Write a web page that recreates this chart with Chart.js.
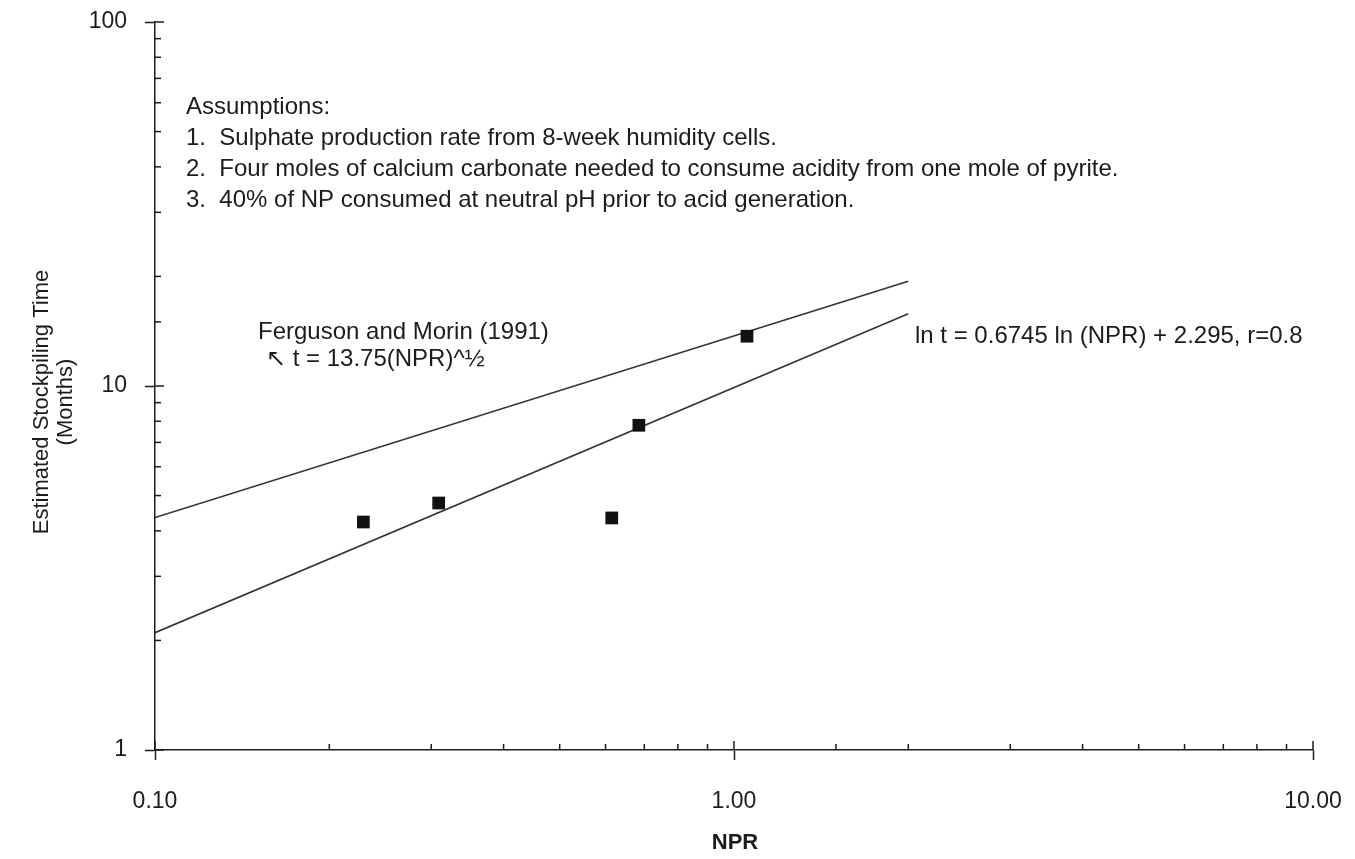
<!DOCTYPE html>
<html>
<head>
<meta charset="utf-8">
<script src="https://cdn.jsdelivr.net/npm/chart.js@4.4.1/dist/chart.umd.min.js"></script>
<style>
  html, body { margin: 0; padding: 0; background: #fff; }
</style>
</head>
<body>
<canvas id="stockpile" width="1355" height="859"></canvas>
<script>
// samples: NPR vs estimated stockpiling time (months)
const nprValues = [0.229, 0.309, 0.615, 0.685, 1.053];
const monthValues = [4.23, 4.77, 4.34, 7.8, 13.7];

// Ferguson and Morin (1991) line, end points
const fergusonNpr = [0.1, 2.0];
const fergusonMonths = [4.35, 19.4];

// regression line end points
const fitNpr = [0.1, 2.0];
const fitMonths = [2.1, 15.8];

const xTickLabels = ['0.10', '1.00', '10.00']; // 0.1, 1, 10
const yTickLabels = ['1', '10', '100'];        // 1, 10, 100

const assumptions = [
  'Assumptions:',
  '1.  Sulphate production rate from 8-week humidity cells.',
  '2.  Four moles of calcium carbonate needed to consume acidity from one mole of pyrite.',
  '3.  40% of NP consumed at neutral pH prior to acid generation.'
];

const FONT = "'Liberation Sans', Arial, sans-serif";
const INK = '#1c1c1c';

const isPow10 = v => Math.abs(Math.log10(v) - Math.round(Math.log10(v))) < 1e-6;
const toPoints = (xs, ys) => xs.map((x, i) => ({ x: x, y: ys[i] }));

// small tick marks pointing into the plot
const innerTicks = {
  id: 'innerTicks',
  afterDatasetsDraw(chart) {
    const { ctx, chartArea, scales } = chart;
    ctx.save();
    ctx.strokeStyle = INK;
    ctx.lineWidth = 1.5;
    scales.x.ticks.forEach(t => {
      const px = scales.x.getPixelForValue(t.value);
      ctx.beginPath();
      ctx.moveTo(px, chartArea.bottom);
      ctx.lineTo(px, chartArea.bottom - (isPow10(t.value) ? 9 : 6));
      ctx.stroke();
    });
    scales.y.ticks.forEach(t => {
      const py = scales.y.getPixelForValue(t.value);
      ctx.beginPath();
      ctx.moveTo(chartArea.left, py);
      ctx.lineTo(chartArea.left + (isPow10(t.value) ? 9 : 6), py);
      ctx.stroke();
    });
    ctx.restore();
  }
};

// free text on the figure
const notes = {
  id: 'notes',
  afterDraw(chart) {
    const ctx = chart.ctx;
    ctx.save();
    ctx.fillStyle = INK;
    ctx.textBaseline = 'middle';
    ctx.textAlign = 'left';
    ctx.font = '24px ' + FONT;
    const rows = [107, 138, 169, 200];
    assumptions.forEach((line, i) => ctx.fillText(line, 186, rows[i]));

    ctx.fillText('Ferguson and Morin (1991)', 258, 332);
    ctx.fillText('\u2196 t = 13.75(NPR)^\u00bd', 266, 359);
    ctx.fillText('ln t = 0.6745 ln (NPR) + 2.295, r=0.8', 915, 336);

    // axis titles
    ctx.textAlign = 'center';
    ctx.font = 'bold 22px ' + FONT;
    ctx.fillText('NPR', 735, 843);

    ctx.font = '22px ' + FONT;
    ctx.translate(42, 402);
    ctx.rotate(-Math.PI / 2);
    ctx.fillText('Estimated Stockpiling Time', 0, 0);
    ctx.fillText('(Months)', 0, 24);
    ctx.restore();
  }
};

const axisTicks = (labels, offset) => ({
  autoSkip: false,
  maxRotation: 0,
  color: INK,
  font: { family: FONT, size: 23 },
  callback: v => isPow10(v) ? labels[Math.round(Math.log10(v)) + offset] : ''
});

new Chart(document.getElementById('stockpile'), {
  type: 'scatter',
  data: {
    datasets: [
      {
        label: 'samples',
        data: toPoints(nprValues, monthValues),
        pointStyle: 'rect',
        pointRadius: 9,
        backgroundColor: '#111',
        borderWidth: 0
      },
      {
        label: 'Ferguson and Morin (1991)',
        data: toPoints(fergusonNpr, fergusonMonths),
        showLine: true,
        pointRadius: 0,
        borderColor: '#333',
        borderWidth: 1.6
      },
      {
        label: 'regression',
        data: toPoints(fitNpr, fitMonths),
        showLine: true,
        pointRadius: 0,
        borderColor: '#333',
        borderWidth: 1.6
      }
    ]
  },
  options: {
    responsive: false,
    animation: false,
    devicePixelRatio: 1,
    layout: { padding: { top: 22, right: 42, bottom: 0, left: 0 } },
    plugins: { legend: { display: false }, tooltip: { enabled: false } },
    scales: {
      x: {
        type: 'logarithmic',
        min: 0.1,
        max: 10,
        border: { display: true, color: INK, width: 1.5 },
        grid: {
          drawOnChartArea: false,
          tickLength: 10,
          tickWidth: 1.5,
          tickColor: c => isPow10(c.tick.value) ? INK : 'rgba(0,0,0,0)'
        },
        ticks: Object.assign(axisTicks(xTickLabels, 1), { padding: 28 }),
        afterFit: s => { s.height = 109; s.paddingLeft = 0; s.paddingRight = 0; }
      },
      y: {
        type: 'logarithmic',
        min: 1,
        max: 100,
        border: { display: true, color: INK, width: 1.5 },
        grid: {
          drawOnChartArea: false,
          tickLength: 10,
          tickWidth: 1.5,
          tickColor: c => isPow10(c.tick.value) ? INK : 'rgba(0,0,0,0)'
        },
        ticks: Object.assign(axisTicks(yTickLabels, 0), { padding: 18 }),
        afterFit: s => { s.width = 155; s.paddingTop = 0; s.paddingBottom = 0; }
      }
    }
  },
  plugins: [innerTicks, notes]
});
</script>
</body>
</html>
